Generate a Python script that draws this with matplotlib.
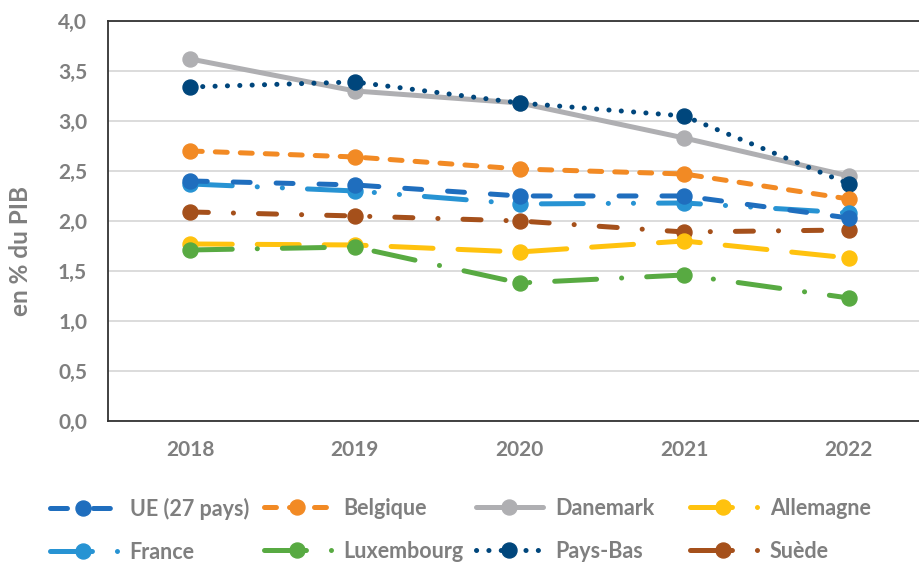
import matplotlib
matplotlib.use("Agg")
import matplotlib.pyplot as plt
from matplotlib.lines import Line2D
from matplotlib.ticker import MultipleLocator, FuncFormatter

plt.rcParams['font.family'] = ['Lato', 'DejaVu Sans']
plt.rcParams['font.weight'] = 'bold'
plt.rcParams['lines.scale_dashes'] = False

years = ["2018", "2019", "2020", "2021", "2022"]

ue = [2.40, 2.36, 2.25, 2.25, 2.03]
belgique = [2.70, 2.64, 2.52, 2.47, 2.22]
danemark = [3.62, 3.30, 3.18, 2.83, 2.45]
allemagne = [1.77, 1.76, 1.69, 1.80, 1.63]
france = [2.37, 2.30, 2.17, 2.18, 2.08]
luxembourg = [1.71, 1.74, 1.38, 1.46, 1.23]
pays_bas = [3.34, 3.39, 3.18, 3.05, 2.37]
suede = [2.09, 2.05, 2.00, 1.89, 1.91]

grey = "#7F7F7F"

fig = plt.figure(figsize=(9.2, 5.65), dpi=100)
ax = fig.add_axes([0.1174, 0.2549, 0.8946, 0.708])

x = range(1, len(years) + 1)
lw = 3.6
ms = 10.8

# dash patterns in points: (line style in plot, style in legend)
lgdashdot = (0, (30.2, 18, 0.1, 18))
series = [
    ("UE (27 pays)", ue, "#1F6EBE", (0, (12.2, 18.7)), None),
    ("Belgique", belgique, "#F28A24", (0, (8.6, 9.4)), None),
    ("Danemark", danemark, "#AFAFB2", "-", None),
    ("Allemagne", allemagne, "#FFC20E", (0, (30.2, 18)), lgdashdot),
    ("France", france, "#2793D3", (0, (30.2, 18, 0.1, 18, 0.1, 18)), None),
    ("Luxembourg", luxembourg, "#58AA42", lgdashdot, None),
    ("Pays-Bas", pays_bas, "#00467C", (0, (0.1, 8.8)), None),
    ("Suède", suede, "#A5501B", (0, (13, 18, 0.1, 18)), lgdashdot),
]

handles = {}
draw_order = ["Danemark", "Pays-Bas", "Belgique", "Suède", "Allemagne",
              "Luxembourg", "France", "UE (27 pays)"]
for name, vals, col, ls, leg_ls in series:
    ax.plot(x, vals, color=col, linestyle=ls, linewidth=lw,
            marker="o", markersize=ms, solid_capstyle="round",
            dash_capstyle="round", zorder=3 + draw_order.index(name))
    handles[name] = Line2D([], [], color=col, linestyle=leg_ls or ls,
                           linewidth=lw, marker="o", markersize=ms,
                           solid_capstyle="round", dash_capstyle="round")

ax.set_xlim(0.5, 5.5)
ax.set_ylim(0, 4.0)
ax.set_xticks(list(x))
ax.set_xticklabels(years)
ax.yaxis.set_major_locator(MultipleLocator(0.5))
ax.yaxis.set_major_formatter(FuncFormatter(lambda v, p: f"{v:.1f}".replace(".", ",")))
ax.grid(axis="y", color="#D9D9D9", linewidth=1.3)
ax.set_axisbelow(True)
for s in ["top", "left", "bottom", "right"]:
    ax.spines[s].set_color("#333333")
    ax.spines[s].set_linewidth(1.3)
ax.tick_params(length=0, labelsize=15, labelcolor=grey)
ax.tick_params(axis="y", pad=15)
ax.tick_params(axis="x", pad=14)
ax.set_ylabel("en % du PIB", fontsize=17.5, color=grey, fontweight="bold")
ax.yaxis.set_label_coords(-0.092, 0.425)

# legend: 4 columns of 2 rows, row-wise order as in the source
columns = [("UE (27 pays)", "France"), ("Belgique", "Luxembourg"),
           ("Danemark", "Pays-Bas"), ("Allemagne", "Suède")]
col_x = [50, 264, 476, 690]
for cx, pair in zip(col_x, columns):
    fig.legend([handles[n] for n in pair], pair, loc="center left",
               bbox_to_anchor=(cx / 920, 1 - 530 / 565), frameon=False,
               fontsize=15.5, labelcolor=grey, handlelength=3.1,
               handletextpad=0.6, labelspacing=1.02, borderpad=0,
               borderaxespad=0, numpoints=1)

fig.savefig("out.png", dpi=100)
